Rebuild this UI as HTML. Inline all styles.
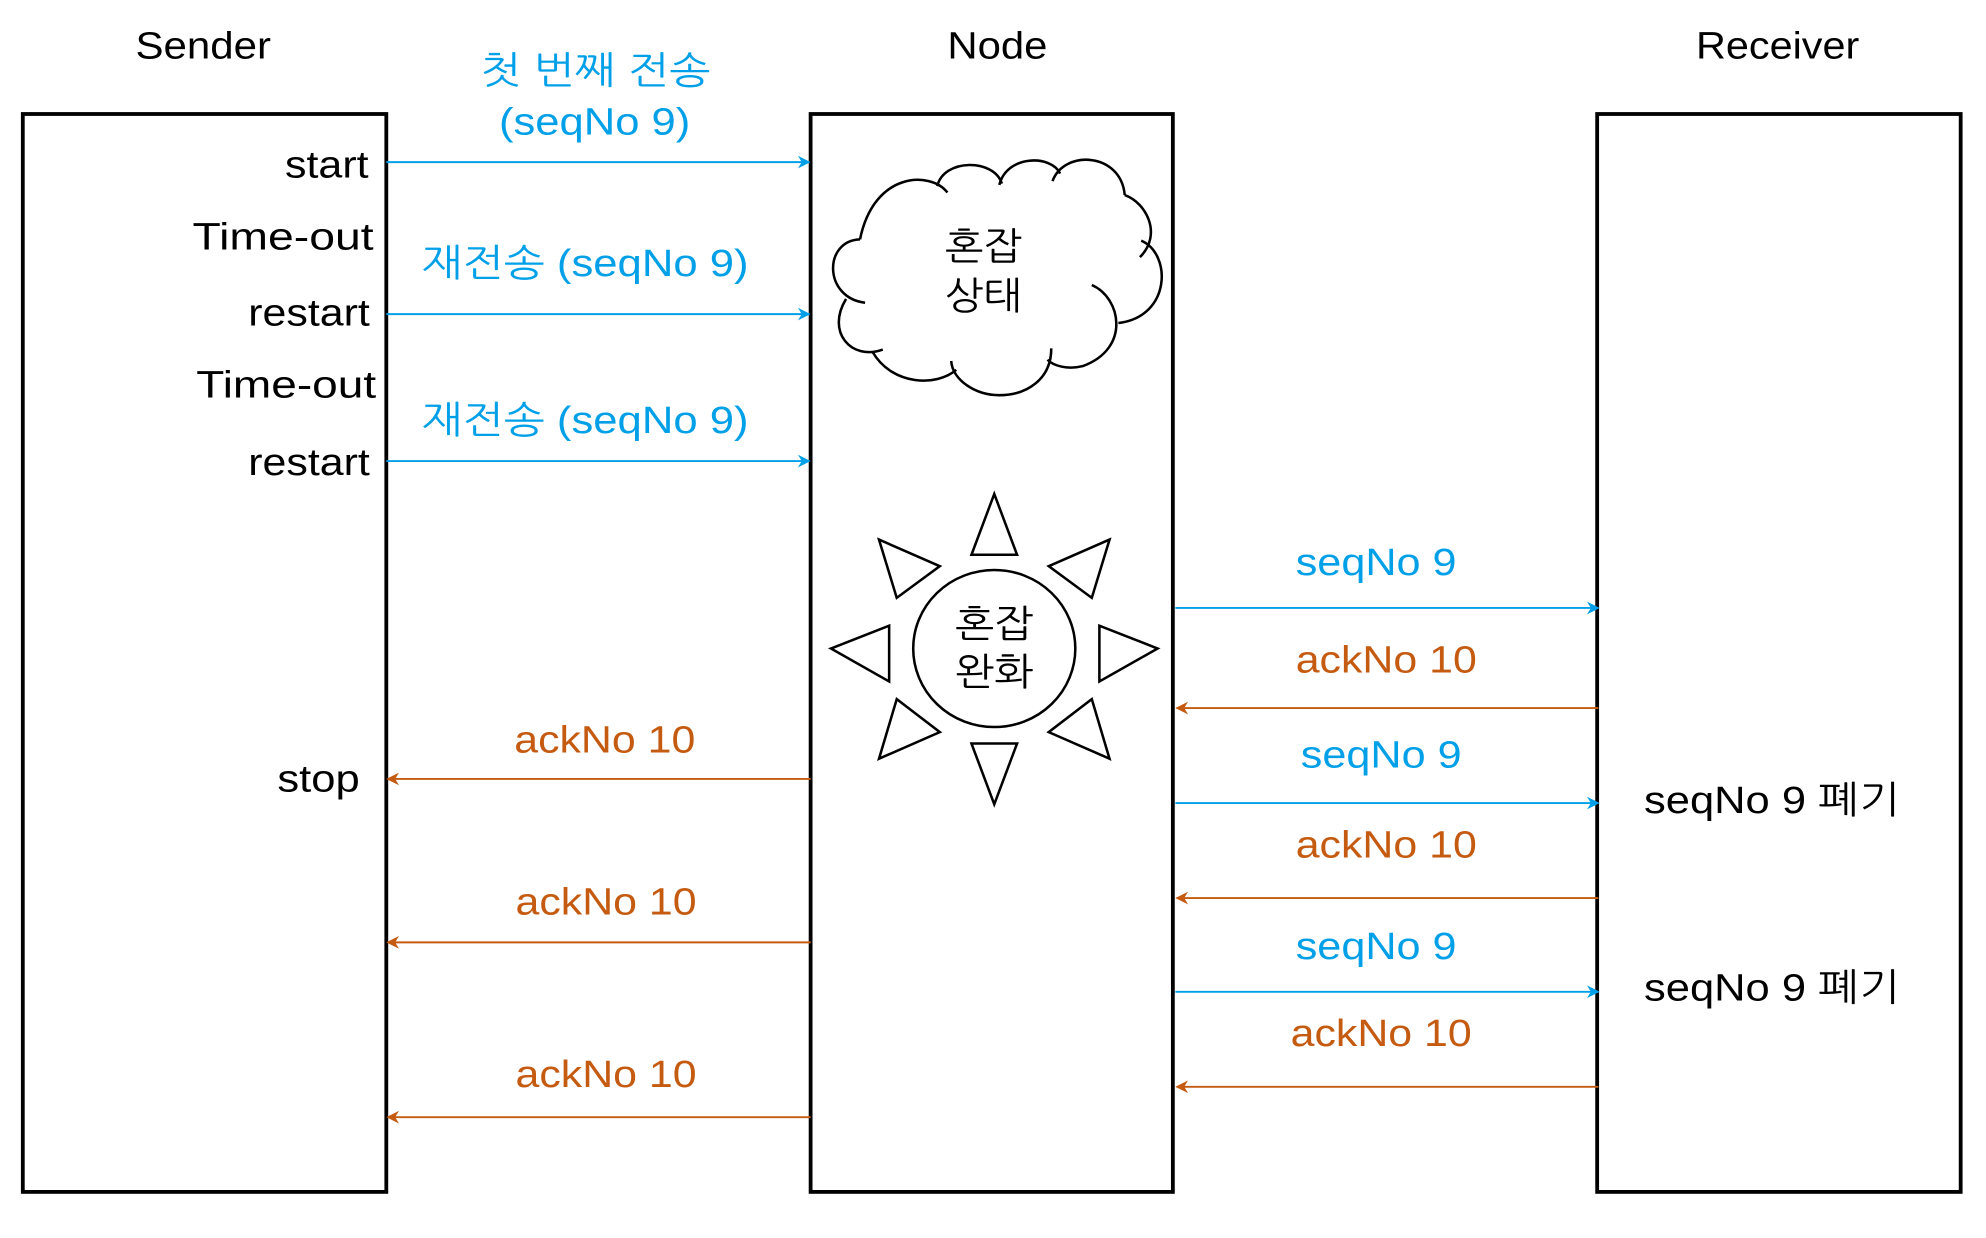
<!DOCTYPE html>
<html><head><meta charset="utf-8"><style>
html,body{margin:0;padding:0;background:#fff}
svg{display:block}
text{font-family:"Liberation Sans","NanumGothic","Noto Sans CJK KR",sans-serif;font-size:30px}
.b{fill:#00a0e9}.o{fill:#c55a11}
</style></head><body>
<svg width="1986" height="1238" viewBox="0 0 1568 977.4" preserveAspectRatio="none" xmlns="http://www.w3.org/2000/svg">
<defs>
<marker id="ab" markerWidth="10" markerHeight="10" refX="9" refY="5" orient="auto" markerUnits="userSpaceOnUse"><path d="M0,0 L10,5 L0,10 L3,5z" fill="#00a0e9"/></marker>
<marker id="ao" markerWidth="10" markerHeight="10" refX="9" refY="5" orient="auto" markerUnits="userSpaceOnUse"><path d="M0,0 L10,5 L0,10 L3,5z" fill="#c55a11"/></marker>
</defs>
<g fill="none" stroke="#000" stroke-width="3">
<rect x="18" y="90" width="287" height="851"/>
<rect x="640" y="90" width="286" height="851"/>
<rect x="1261" y="90" width="287" height="851"/>
</g>
<g lengthAdjust="spacingAndGlyphs">
<text x="107" y="46" textLength="107" lengthAdjust="spacingAndGlyphs">Sender</text>
<text x="748" y="46" textLength="79" lengthAdjust="spacingAndGlyphs">Node</text>
<text x="1339" y="46" textLength="129" lengthAdjust="spacingAndGlyphs">Receiver</text>
<text x="225" y="140" textLength="66" lengthAdjust="spacingAndGlyphs">start</text>
<text x="152" y="197" textLength="143" lengthAdjust="spacingAndGlyphs">Time-out</text>
<text x="196" y="257" textLength="96" lengthAdjust="spacingAndGlyphs">restart</text>
<text x="155" y="314" textLength="142" lengthAdjust="spacingAndGlyphs">Time-out</text>
<text x="196" y="375" textLength="96" lengthAdjust="spacingAndGlyphs">restart</text>
<text x="219" y="625" textLength="65" lengthAdjust="spacingAndGlyphs">stop</text>
</g>
<g stroke="#00a0e9" stroke-width="1.5" marker-end="url(#ab)">
<line x1="305" y1="128" x2="639" y2="128"/>
<line x1="305" y1="248" x2="639" y2="248"/>
<line x1="305" y1="364" x2="639" y2="364"/>
<line x1="928" y1="480" x2="1262" y2="480"/>
<line x1="928" y1="634" x2="1262" y2="634"/>
<line x1="928" y1="783" x2="1262" y2="783"/>
</g>
<g stroke="#c55a11" stroke-width="1.5" marker-end="url(#ao)">
<line x1="1262" y1="559" x2="929" y2="559"/>
<line x1="1262" y1="709" x2="929" y2="709"/>
<line x1="1262" y1="858" x2="929" y2="858"/>
<line x1="640" y1="615" x2="306" y2="615"/>
<line x1="640" y1="744" x2="306" y2="744"/>
<line x1="640" y1="882" x2="306" y2="882"/>
</g>
<g class="b">
<text x="379" y="66" textLength="182" lengthAdjust="spacingAndGlyphs">첫 번째 전송</text>
<text x="394" y="106" textLength="151" lengthAdjust="spacingAndGlyphs">(seqNo 9)</text>
<text x="333" y="218" textLength="258" lengthAdjust="spacingAndGlyphs">재전송 (seqNo 9)</text>
<text x="333" y="342" textLength="258" lengthAdjust="spacingAndGlyphs">재전송 (seqNo 9)</text>
<text x="1023" y="454" textLength="127" lengthAdjust="spacingAndGlyphs">seqNo 9</text>
<text x="1027" y="606" textLength="127" lengthAdjust="spacingAndGlyphs">seqNo 9</text>
<text x="1023" y="757" textLength="127" lengthAdjust="spacingAndGlyphs">seqNo 9</text>
</g>
<g class="o">
<text x="1023" y="531" textLength="143" lengthAdjust="spacingAndGlyphs">ackNo 10</text>
<text x="1023" y="677" textLength="143" lengthAdjust="spacingAndGlyphs">ackNo 10</text>
<text x="1019" y="826" textLength="143" lengthAdjust="spacingAndGlyphs">ackNo 10</text>
<text x="406" y="594" textLength="143" lengthAdjust="spacingAndGlyphs">ackNo 10</text>
<text x="407" y="722" textLength="143" lengthAdjust="spacingAndGlyphs">ackNo 10</text>
<text x="407" y="858" textLength="143" lengthAdjust="spacingAndGlyphs">ackNo 10</text>
</g>
<text x="1298" y="642" textLength="202" lengthAdjust="spacingAndGlyphs">seqNo 9 폐기</text>
<text x="1298" y="790" textLength="202" lengthAdjust="spacingAndGlyphs">seqNo 9 폐기</text>
<!-- cloud -->
<g fill="none" stroke="#000" stroke-width="2">
<path d="M748,152 C735,135 690,135 679,189"/>
<path d="M740,147 C745,125 785,125 791,145"/>
<path d="M789,146 C795,122 830,122 837,137"/>
<path d="M831,143 C840,118 885,120 888,154"/>
<path d="M888,154 C905,160 918,185 900,203"/>
<path d="M901,190 C925,200 925,250 883,255"/>
<path d="M862,225 C885,235 893,275 855,289 C843,292 832,289 827,284"/>
<path d="M830,275 C830,300 810,312 789,312 C770,312 752,300 751,285"/>
<path d="M755,292 C740,305 705,305 689,278"/>
<path d="M697,276 C672,285 652,262 668,236"/>
<path d="M683,239 C650,235 650,190 679,189"/>
</g>
<text x="746" y="205" textLength="61" lengthAdjust="spacingAndGlyphs">혼잡</text>
<text x="746" y="244" textLength="61" lengthAdjust="spacingAndGlyphs">상태</text>
<!-- sun -->
<g fill="none" stroke="#000" stroke-width="2">
<ellipse cx="785" cy="512" rx="64" ry="62"/>
<polygon points="785,390 767,438 803,438"/>
<polygon points="785,635 767,587 803,587"/>
<polygon points="656,512 702,494 702,538"/>
<polygon points="914,512 868,494 868,538"/>
<polygon points="694,426 742,447 708,472"/>
<polygon points="876,426 828,447 862,472"/>
<polygon points="694,599 742,578 708,552"/>
<polygon points="876,599 828,578 862,552"/>
</g>
<text x="754" y="503" textLength="62" lengthAdjust="spacingAndGlyphs">혼잡</text>
<text x="754" y="541" textLength="62" lengthAdjust="spacingAndGlyphs">완화</text>
</svg>
</body></html>
